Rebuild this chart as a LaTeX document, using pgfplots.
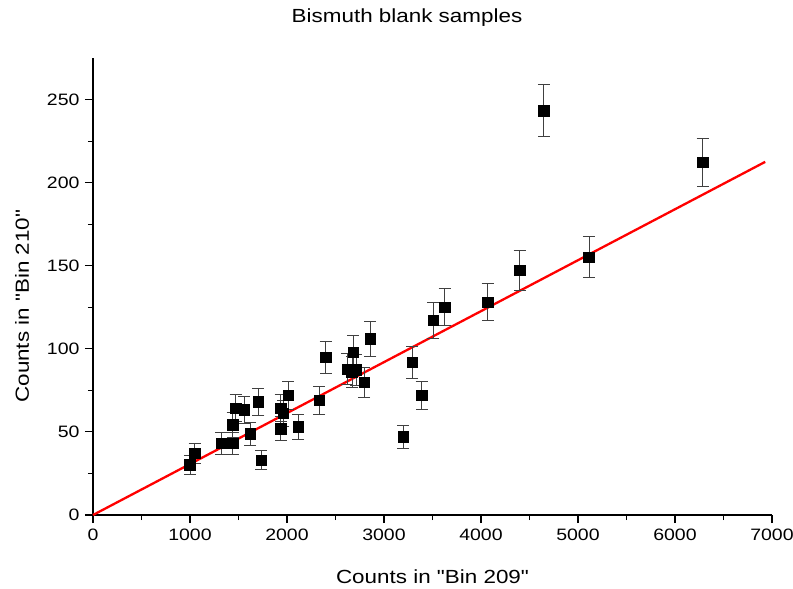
\documentclass[border=0pt]{standalone}
\usepackage{pgfplots}
\pgfplotsset{compat=1.18}
\usepackage{fontspec}
\defaultfontfeatures{}
\setmainfont{Liberation Sans}[FakeStretch=1.18, Ligatures=TeXOff]
\begin{document}
\begin{tikzpicture}
\useasboundingbox (-93pt,-74pt) rectangle (700pt,515pt);
\begin{axis}[
  at={(0pt,0pt)}, anchor=south west,
  scale only axis, width=679pt, height=457pt,
  xmin=0, xmax=7000, ymin=0, ymax=275,
  axis x line*=bottom, axis y line*=left,
  axis line style={line width=1.2pt},
  xtick={0,1000,...,7000}, ytick={0,50,...,250},
  minor x tick num=1, minor y tick num=1,
  tick align=outside,
  major tick length=8pt, minor tick length=5pt,
  every tick/.style={black, line width=1.1pt},
  /pgf/number format/assume math mode=true,
  /pgf/number format/1000 sep={},
  tick label style={font=\fontsize{16.5}{18}\selectfont},
  xticklabel style={yshift=-2pt},
  yticklabel style={xshift=-2pt},
  xlabel={Counts in "Bin 209"},
  ylabel={Counts in "Bin 210"},
  every axis x label/.style={at={(axis description cs:0.5,0)}, anchor=center, yshift=-62pt, font=\fontsize{19}{22}\selectfont},
  every axis y label/.style={at={(axis description cs:0,0.457)}, anchor=center, xshift=-71pt, rotate=90, font=\fontsize{19}{22}\selectfont},
  clip=false,
]
\addplot[red, line width=2.3pt] coordinates {(0,0) (6930,212.5)};
\addplot[only marks, mark=square*, mark size=5.3pt, black,
  error bars/.cd, y dir=both, y explicit,
  error bar style={black!75, line width=0.9pt},
  error mark options={rotate=90, mark size=6pt, line width=0.9pt, black!75}]
  table[x=x, y=y, y error=e] {
x y e
1000 30.1 5.5
1048 37.2 6.1
1323 43.2 6.6
1440 43.2 6.6
1440 54.2 7.4
1471 64.3 8.0
1560 63.3 8.0
1619 48.8 7.0
1704 68.1 8.3
1732 33.0 5.7
1935 64.3 8.0
1935 52.0 7.2
1962 61.3 7.8
2013 72.1 8.5
2116 53.0 7.3
2330 69.1 8.3
2399 95.0 9.7
2619 87.8 9.4
2684 98.0 9.9
2670 86.1 9.3
2711 87.3 9.3
2794 79.9 8.9
2859 106.0 10.3
3196 47.0 6.9
3289 92.0 9.6
3389 72.1 8.5
3508 117.2 10.8
3626 125.1 11.2
4069 128.1 11.3
4399 147.2 12.1
4649 243.4 15.6
5113 155.2 12.5
6286 212.2 14.6
};
\end{axis}
\node[font=\fontsize{19}{22}\selectfont] at (314pt,497pt) {Bismuth blank samples};
\end{tikzpicture}
\end{document}
